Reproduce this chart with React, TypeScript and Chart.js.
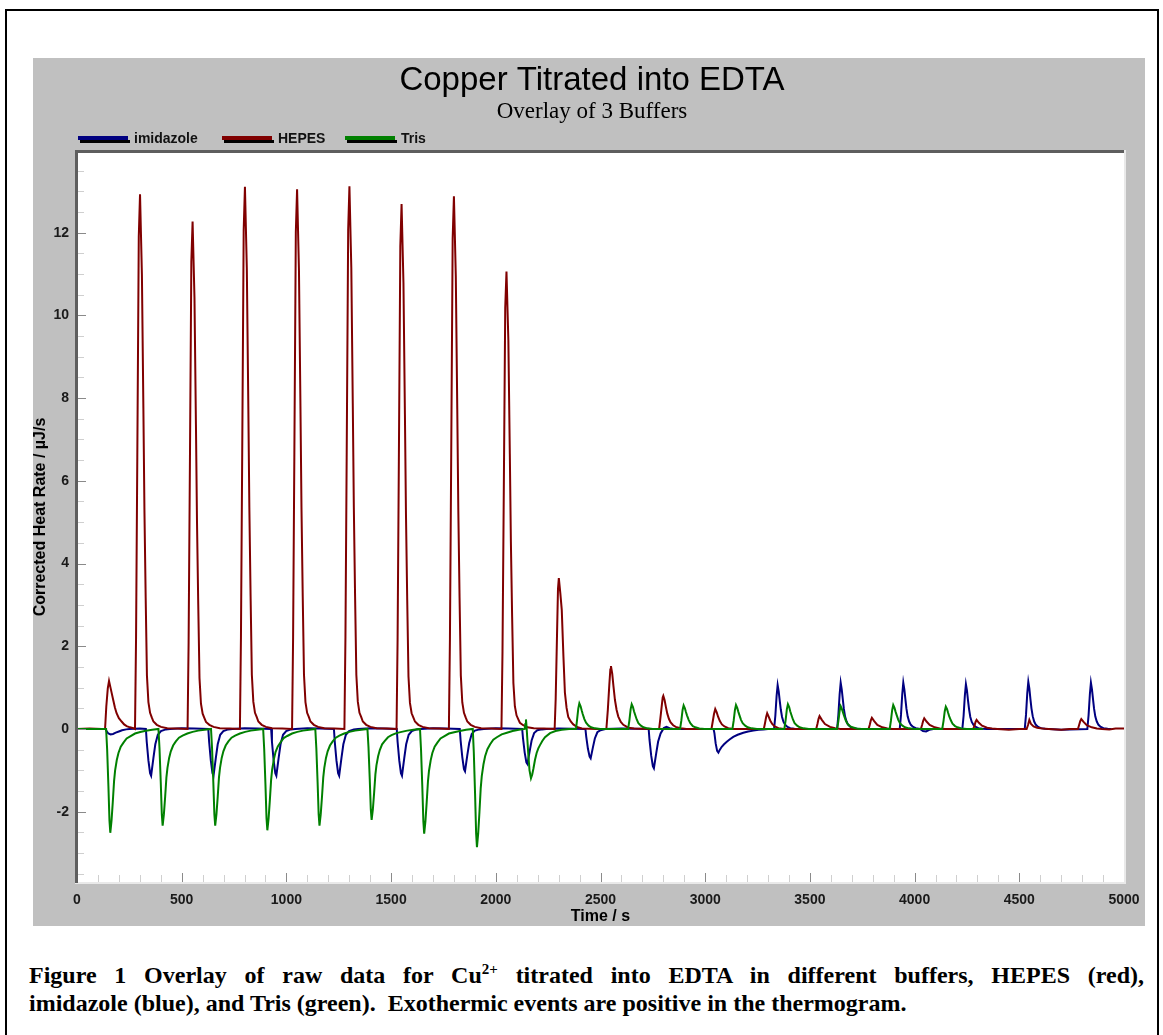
import { useEffect, useRef } from 'react';
import { Chart, registerables } from 'chart.js';

Chart.register(...registerables);

const chartTitle = 'Copper Titrated into EDTA';
const chartSubtitle = 'Overlay of 3 Buffers';
const seriesNames = ['imidazole', 'HEPES', 'Tris'];
const seriesColors = ['#000080', '#800000', '#008000'];

const xTickLabels = [0, 500, 1000, 1500, 2000, 2500, 3000, 3500, 4000, 4500, 5000];
const yTickLabels = [-2, 0, 2, 4, 6, 8, 10, 12];

// Time (s), corrected heat rate (µJ/s)
const imidazoleData: [number, number][] = [
  [0, 0], [136, 0], [142, -0.06], [150, -0.11], [160, -0.13], [172, -0.12], [185, -0.09], [200, -0.06], [215, -0.03], [235, -0.01], [250, 0], [300, 0.01], [329, 0],
  [333, -0.31], [341, -0.76], [349, -1.07], [354, -1.13], [365, -0.7], [374, -0.37], [386, -0.14], [401, -0.05], [424, -0.01], [444, 0], [500, 0.02], [560, 0.01], [627, 0],
  [631, -0.31], [639, -0.76], [647, -1.07], [652, -1.13], [663, -0.7], [672, -0.37], [684, -0.14], [699, -0.05], [722, -0.01], [742, 0], [800, 0.02], [860, 0.01], [927, 0],
  [931, -0.31], [939, -0.76], [947, -1.07], [952, -1.13], [963, -0.7], [972, -0.37], [984, -0.14], [999, -0.05], [1022, -0.01], [1042, 0], [1100, 0.02], [1160, 0.01], [1227, 0],
  [1231, -0.31], [1239, -0.76], [1247, -1.07], [1252, -1.13], [1263, -0.7], [1272, -0.37], [1284, -0.14], [1299, -0.05], [1322, -0.01], [1342, 0], [1400, 0.02], [1460, 0.01], [1527, 0],
  [1531, -0.31], [1539, -0.76], [1547, -1.07], [1552, -1.13], [1563, -0.7], [1572, -0.37], [1584, -0.14], [1599, -0.05], [1622, -0.01], [1642, 0], [1700, 0.02], [1760, 0.01], [1828, 0],
  [1832, -0.28], [1840, -0.68], [1848, -0.97], [1853, -1.02], [1864, -0.63], [1873, -0.34], [1885, -0.12], [1900, -0.04], [1923, -0.01], [1943, 0], [2000, 0.02], [2060, 0.01], [2126, 0],
  [2130, -0.23], [2138, -0.57], [2146, -0.81], [2151, -0.85], [2162, -0.53], [2171, -0.28], [2183, -0.1], [2198, -0.03], [2221, -0.01], [2241, 0], [2300, 0.01], [2428, 0],
  [2432, -0.19], [2440, -0.48], [2448, -0.67], [2453, -0.71], [2464, -0.44], [2473, -0.23], [2485, -0.08], [2500, -0.03], [2523, 0], [2600, 0.01], [2730, 0],
  [2734, -0.26], [2742, -0.64], [2750, -0.9], [2755, -0.95], [2766, -0.59], [2775, -0.31], [2787, -0.11], [2802, 0.02], [2815, 0.05], [2830, 0.02], [2850, 0], [3040, 0],
  [3044, -0.1], [3050, -0.35], [3057, -0.53], [3063, -0.57], [3070, -0.5], [3079, -0.43], [3090, -0.37], [3103, -0.31], [3118, -0.25], [3134, -0.19], [3155, -0.14], [3182, -0.09], [3205, -0.06], [3230, -0.04], [3255, -0.02], [3278, -0.01], [3300, 0], [3329, 0],
  [3335, 0.32], [3341, 0.8], [3346, 1.06], [3351, 0.91], [3356, 0.68], [3361, 0.47], [3367, 0.29], [3374, 0.17], [3382, 0.1], [3393, 0.05], [3406, 0.02], [3426, 0.005], [3446, 0], [3630, 0],
  [3636, 0.34], [3642, 0.84], [3647, 1.12], [3652, 0.96], [3657, 0.72], [3662, 0.49], [3668, 0.3], [3675, 0.18], [3683, 0.1], [3694, 0.05], [3707, 0.02], [3727, 0.006], [3747, 0], [3929, 0],
  [3935, 0.34], [3941, 0.84], [3946, 1.12], [3951, 0.96], [3956, 0.72], [3961, 0.49], [3967, 0.3], [3974, 0.18], [3982, 0.1], [3993, 0.05], [4006, 0.02], [4026, 0], [4040, -0.05], [4055, -0.06], [4070, -0.02], [4090, 0], [4228, 0],
  [4234, 0.32], [4240, 0.81], [4245, 1.08], [4250, 0.93], [4255, 0.69], [4260, 0.48], [4266, 0.29], [4273, 0.17], [4281, 0.1], [4292, 0.05], [4305, 0.02], [4325, 0.005], [4345, 0], [4526, 0],
  [4532, 0.34], [4538, 0.86], [4543, 1.14], [4548, 0.98], [4553, 0.73], [4558, 0.5], [4564, 0.31], [4571, 0.18], [4579, 0.1], [4590, 0.05], [4603, 0.02], [4623, 0.006], [4643, 0], [4700, -0.02], [4825, 0],
  [4831, 0.34], [4837, 0.84], [4842, 1.12], [4847, 0.96], [4852, 0.72], [4857, 0.49], [4863, 0.3], [4870, 0.18], [4878, 0.1], [4889, 0.05], [4902, 0.02], [4922, 0.005], [4940, 0],
];

const hepesData: [number, number][] = [
  [0, 0], [60, 0.01], [120, 0], [134, 0], [140, 0.55], [147, 0.98], [153, 1.16], [160, 1.0], [166, 0.86], [173, 0.7], [181, 0.52], [189, 0.38], [200, 0.26], [213, 0.18], [225, 0.11], [237, 0.07], [253, 0.04], [269, 0.02], [277, 0],
  [282, 2.2], [288, 6.59], [295, 11.9], [301, 12.93], [310, 10.99], [317, 7.76], [322, 5.3], [328, 3.17], [334, 1.29], [341, 0.65], [349, 0.39], [357, 0.28], [365, 0.18], [381, 0.1], [401, 0.05], [431, 0.02], [480, 0.01], [528, 0],
  [533, 2.09], [539, 6.26], [546, 11.29], [552, 12.27], [561, 10.43], [568, 7.36], [573, 5.03], [579, 3.01], [585, 1.23], [592, 0.61], [600, 0.37], [608, 0.27], [616, 0.17], [632, 0.1], [652, 0.05], [682, 0.02], [730, 0.01], [778, 0],
  [783, 2.23], [789, 6.69], [796, 12.06], [802, 13.11], [811, 11.14], [818, 7.87], [823, 5.38], [829, 3.21], [835, 1.31], [842, 0.66], [850, 0.39], [858, 0.29], [866, 0.18], [882, 0.1], [902, 0.05], [932, 0.02], [980, 0.01], [1027, 0],
  [1032, 2.22], [1038, 6.66], [1045, 12.01], [1051, 13.05], [1060, 11.09], [1067, 7.83], [1072, 5.35], [1078, 3.2], [1084, 1.31], [1091, 0.65], [1099, 0.39], [1107, 0.29], [1115, 0.18], [1131, 0.1], [1151, 0.05], [1181, 0.02], [1230, 0.01], [1277, 0],
  [1282, 2.23], [1288, 6.69], [1295, 12.07], [1301, 13.12], [1310, 11.15], [1317, 7.87], [1322, 5.38], [1328, 3.21], [1334, 1.31], [1341, 0.66], [1349, 0.39], [1357, 0.29], [1365, 0.18], [1381, 0.1], [1401, 0.05], [1431, 0.02], [1480, 0.01], [1526, 0],
  [1531, 2.16], [1537, 6.47], [1544, 11.67], [1550, 12.69], [1559, 10.79], [1566, 7.61], [1571, 5.2], [1577, 3.11], [1583, 1.27], [1590, 0.63], [1598, 0.38], [1606, 0.28], [1614, 0.18], [1630, 0.1], [1650, 0.05], [1680, 0.02], [1730, 0.01], [1776, 0],
  [1781, 2.19], [1787, 6.57], [1794, 11.85], [1800, 12.88], [1809, 10.95], [1816, 7.73], [1821, 5.28], [1827, 3.16], [1833, 1.29], [1840, 0.64], [1848, 0.39], [1856, 0.28], [1864, 0.18], [1880, 0.1], [1900, 0.05], [1930, 0.02], [1980, 0.01], [2027, 0],
  [2032, 1.88], [2038, 5.64], [2045, 10.18], [2051, 11.06], [2060, 9.4], [2067, 6.64], [2072, 4.53], [2078, 2.71], [2084, 1.11], [2091, 0.55], [2099, 0.33], [2107, 0.24], [2115, 0.15], [2131, 0.09], [2151, 0.04], [2181, 0.02], [2230, 0.01], [2281, 0],
  [2286, 0.73], [2292, 2.19], [2297, 3.39], [2301, 3.65], [2308, 3.29], [2315, 2.88], [2323, 1.75], [2330, 0.88], [2338, 0.51], [2346, 0.29], [2358, 0.18], [2370, 0.11], [2391, 0.04], [2411, 0.01], [2480, 0], [2528, 0],
  [2535, 0.46], [2542, 1.06], [2547, 1.44], [2550, 1.52], [2556, 1.34], [2562, 1.03], [2569, 0.7], [2577, 0.46], [2585, 0.3], [2597, 0.17], [2609, 0.1], [2633, 0.03], [2660, 0.01], [2740, 0], [2780, 0],
  [2786, 0.26], [2793, 0.58], [2797, 0.76], [2800, 0.8], [2806, 0.7], [2812, 0.54], [2819, 0.37], [2827, 0.24], [2835, 0.16], [2847, 0.09], [2859, 0.05], [2883, 0.02], [2910, 0], [3030, 0],
  [3036, 0.18], [3042, 0.36], [3048, 0.48], [3055, 0.4], [3062, 0.29], [3070, 0.19], [3080, 0.11], [3092, 0.06], [3110, 0.02], [3135, 0], [3280, 0],
  [3286, 0.15], [3291, 0.29], [3296, 0.38], [3303, 0.3], [3311, 0.2], [3320, 0.12], [3332, 0.06], [3350, 0.02], [3375, 0], [3530, 0],
  [3536, 0.12], [3541, 0.24], [3546, 0.31], [3557, 0.22], [3572, 0.12], [3596, 0.05], [3620, 0.02], [3645, 0], [3780, 0],
  [3786, 0.1], [3791, 0.21], [3796, 0.27], [3807, 0.19], [3822, 0.1], [3846, 0.04], [3870, 0.01], [3895, 0], [4030, 0],
  [4036, 0.1], [4041, 0.2], [4046, 0.26], [4057, 0.18], [4072, 0.1], [4096, 0.04], [4120, 0.01], [4145, 0], [4280, 0],
  [4286, 0.08], [4291, 0.17], [4296, 0.22], [4307, 0.15], [4322, 0.08], [4346, 0.03], [4370, 0.01], [4395, 0], [4450, -0.02], [4500, 0], [4535, 0],
  [4542, 0.1], [4548, 0.22], [4556, 0.12], [4568, 0.06], [4585, 0.03], [4610, 0.01], [4640, 0], [4700, -0.02], [4740, 0], [4780, 0],
  [4786, 0.1], [4791, 0.19], [4796, 0.24], [4807, 0.17], [4822, 0.09], [4846, 0.04], [4870, 0.01], [4895, 0], [4930, -0.01], [4960, 0.01], [5000, 0.01],
];

const trisData: [number, number][] = [
  [0, 0], [139, 0], [144, -0.5], [150, -1.38], [155, -2.21], [159, -2.51], [165, -2.21], [171, -1.76], [177, -1.26], [182, -1.0], [190, -0.75], [198, -0.58], [209, -0.43], [222, -0.33], [237, -0.23], [254, -0.18], [277, -0.11], [302, -0.075], [329, -0.045], [359, -0.02], [389, 0],
  [394, -0.47], [400, -1.29], [405, -2.06], [409, -2.34], [415, -2.06], [421, -1.64], [427, -1.17], [432, -0.94], [440, -0.7], [448, -0.54], [459, -0.4], [472, -0.3], [487, -0.21], [504, -0.16], [527, -0.11], [552, -0.07], [579, -0.04], [609, -0.02], [640, 0],
  [645, -0.47], [651, -1.29], [656, -2.06], [660, -2.34], [666, -2.06], [672, -1.64], [678, -1.17], [683, -0.94], [691, -0.7], [699, -0.54], [710, -0.4], [723, -0.3], [738, -0.21], [755, -0.16], [778, -0.11], [803, -0.07], [830, -0.04], [860, -0.02], [889, 0],
  [894, -0.49], [900, -1.35], [905, -2.16], [909, -2.45], [915, -2.16], [921, -1.72], [927, -1.23], [932, -0.98], [940, -0.74], [948, -0.56], [959, -0.42], [972, -0.32], [987, -0.22], [1004, -0.17], [1027, -0.11], [1052, -0.07], [1079, -0.04], [1109, -0.02], [1138, 0],
  [1143, -0.47], [1149, -1.29], [1154, -2.06], [1158, -2.34], [1164, -2.06], [1170, -1.64], [1176, -1.17], [1181, -0.94], [1189, -0.7], [1197, -0.54], [1208, -0.4], [1221, -0.3], [1236, -0.21], [1253, -0.16], [1276, -0.11], [1301, -0.07], [1328, -0.04], [1358, -0.02], [1387, 0],
  [1392, -0.44], [1398, -1.21], [1403, -1.94], [1407, -2.2], [1413, -1.94], [1419, -1.54], [1425, -1.1], [1430, -0.88], [1438, -0.66], [1446, -0.51], [1457, -0.37], [1470, -0.29], [1485, -0.2], [1502, -0.15], [1525, -0.1], [1550, -0.07], [1577, -0.04], [1607, -0.02], [1638, 0],
  [1643, -0.51], [1649, -1.39], [1654, -2.23], [1658, -2.53], [1664, -2.23], [1670, -1.77], [1676, -1.27], [1681, -1.01], [1689, -0.76], [1697, -0.58], [1708, -0.43], [1721, -0.33], [1736, -0.23], [1753, -0.18], [1776, -0.11], [1801, -0.08], [1828, -0.05], [1858, -0.02], [1890, 0],
  [1895, -0.57], [1901, -1.57], [1906, -2.52], [1910, -2.86], [1916, -2.52], [1922, -2.0], [1928, -1.43], [1933, -1.14], [1941, -0.86], [1949, -0.66], [1960, -0.49], [1973, -0.37], [1988, -0.26], [2005, -0.2], [2028, -0.13], [2053, -0.09], [2080, -0.05], [2110, -0.02], [2138, 0],
  [2141, 0.12], [2144, 0.23], [2147, 0.05], [2150, -0.2], [2155, -0.6], [2161, -1.0], [2168, -1.19], [2174, -1.1], [2180, -0.95], [2187, -0.75], [2195, -0.58], [2203, -0.47], [2211, -0.39], [2222, -0.29], [2235, -0.2], [2259, -0.1], [2285, -0.05], [2315, -0.02], [2350, 0], [2383, 0],
  [2388, 0.22], [2394, 0.5], [2399, 0.62], [2405, 0.55], [2410, 0.45], [2415, 0.36], [2423, 0.24], [2431, 0.15], [2443, 0.08], [2455, 0.04], [2474, 0.015], [2499, 0], [2632, 0],
  [2638, 0.21], [2644, 0.48], [2649, 0.6], [2655, 0.53], [2660, 0.43], [2665, 0.35], [2673, 0.23], [2681, 0.14], [2693, 0.08], [2705, 0.04], [2724, 0.015], [2749, 0], [2880, 0],
  [2886, 0.2], [2892, 0.46], [2897, 0.57], [2903, 0.5], [2908, 0.41], [2913, 0.33], [2921, 0.22], [2929, 0.14], [2941, 0.07], [2953, 0.04], [2972, 0.014], [2997, 0], [3130, 0],
  [3136, 0.2], [3142, 0.46], [3147, 0.58], [3153, 0.51], [3158, 0.42], [3163, 0.34], [3171, 0.22], [3179, 0.14], [3191, 0.08], [3203, 0.04], [3222, 0.015], [3247, 0], [3378, 0],
  [3384, 0.21], [3390, 0.48], [3395, 0.6], [3401, 0.53], [3406, 0.43], [3411, 0.35], [3419, 0.23], [3427, 0.14], [3439, 0.08], [3451, 0.04], [3470, 0.015], [3495, 0], [3630, 0],
  [3636, 0.19], [3642, 0.44], [3647, 0.55], [3653, 0.48], [3658, 0.4], [3663, 0.32], [3671, 0.21], [3679, 0.13], [3691, 0.07], [3703, 0.04], [3722, 0.014], [3747, 0], [3881, 0],
  [3887, 0.2], [3893, 0.46], [3898, 0.58], [3904, 0.51], [3909, 0.42], [3914, 0.34], [3922, 0.22], [3930, 0.14], [3942, 0.08], [3954, 0.04], [3973, 0.015], [3998, 0], [4132, 0],
  [4138, 0.19], [4144, 0.43], [4149, 0.54], [4155, 0.48], [4160, 0.39], [4165, 0.31], [4173, 0.21], [4181, 0.13], [4193, 0.07], [4205, 0.04], [4224, 0.014], [4249, 0], [4327, 0],
];

const seriesData = [imidazoleData, hepesData, trisData];
const drawOrder = [3, 2, 1]; // Tris on top, imidazole underneath

const SANS = 'Arial, "Liberation Sans", sans-serif';
const SERIF = '"Times New Roman", "Liberation Serif", serif';

// layout constants (canvas px)
const TITLE_X = 559;
const TITLE_Y = 23;
const SUBTITLE_Y = 54;
const LEGEND_X = [45, 189, 312];
const LEGEND_Y = 82;

const framePlugin = {
  id: 'itcFrame',
  beforeDraw(chart: any) {
    const { ctx, chartArea } = chart;
    const { left, top, right, bottom } = chartArea;
    ctx.save();
    ctx.fillStyle = '#ffffff';
    ctx.fillRect(left, top, right - left, bottom - top);
    ctx.restore();
  },
  afterDatasetsDraw(chart: any) {
    const { ctx, chartArea, scales } = chart;
    const { left, top, right, bottom } = chartArea;
    ctx.save();
    ctx.lineWidth = 1;
    scales.y.ticks.forEach((t: any) => {
      const py = Math.round(scales.y.getPixelForValue(t.value)) + 0.5;
      const major = yTickLabels.includes(t.value);
      ctx.strokeStyle = major ? '#8a8a8a' : '#cfcfcf';
      ctx.beginPath();
      ctx.moveTo(left, py);
      ctx.lineTo(left + (major ? 9 : 7), py);
      ctx.stroke();
    });
    scales.x.ticks.forEach((t: any) => {
      const px = Math.round(scales.x.getPixelForValue(t.value)) + 0.5;
      const major = xTickLabels.includes(t.value);
      ctx.strokeStyle = major ? '#8a8a8a' : '#cfcfcf';
      ctx.beginPath();
      ctx.moveTo(px, bottom);
      ctx.lineTo(px, bottom - (major ? 9 : 7));
      ctx.stroke();
    });
    ctx.fillStyle = '#e9e9e9';
    ctx.fillRect(left - 2, bottom, right - left + 4, 2);
    ctx.fillRect(right, top - 2, 2, bottom - top + 4);
    ctx.fillStyle = '#5e5e5e';
    ctx.fillRect(left - 2, top - 2, right - left + 2, 3);
    ctx.fillRect(left - 2, top - 2, 3, bottom - top + 3);
    ctx.restore();
  },
  afterDraw(chart: any) {
    const { ctx } = chart;
    ctx.save();
    ctx.textAlign = 'center';
    ctx.textBaseline = 'middle';
    ctx.fillStyle = '#000';
    ctx.font = `33px ${SANS}`;
    ctx.fillText(chartTitle, TITLE_X, TITLE_Y);
    ctx.font = `23px ${SERIF}`;
    ctx.fillText(chartSubtitle, TITLE_X, SUBTITLE_Y);

    ctx.font = `bold 14px ${SANS}`;
    ctx.textAlign = 'left';
    chart.data.datasets.forEach((ds: any, i: number) => {
      const x = LEGEND_X[i];
      const y = LEGEND_Y;
      ctx.fillStyle = '#000000';
      ctx.fillRect(x + 2, y, 50, 3);
      ctx.fillStyle = ds.borderColor;
      ctx.fillRect(x, y - 4, 50, 4);
      ctx.fillStyle = '#111111';
      ctx.fillText(ds.label, x + 56, y - 1);
    });
    ctx.restore();
  },
};

function ThermogramChart() {
  const canvasRef = useRef<HTMLCanvasElement | null>(null);

  useEffect(() => {
    const canvas = canvasRef.current;
    if (!canvas) return;
    const chart = new Chart(canvas, {
      type: 'line',
      data: {
        datasets: seriesNames.map((name, i) => ({
          label: name,
          data: seriesData[i].map(([x, y]) => ({ x, y })),
          borderColor: seriesColors[i],
          backgroundColor: seriesColors[i],
          borderWidth: 2,
          pointRadius: 0,
          tension: 0,
          fill: false,
          order: drawOrder[i],
        })),
      },
      options: {
        responsive: false,
        animation: false,
        devicePixelRatio: 1,
        layout: { padding: { left: 0, right: 21, top: 94, bottom: 0 } },
        plugins: {
          legend: { display: false },
          tooltip: { enabled: false },
          title: { display: false },
          subtitle: { display: false },
        },
        scales: {
          x: {
            type: 'linear',
            min: 0,
            max: 5000,
            afterFit: (s: any) => {
              s.height = 44;
              s.paddingLeft = 0;
              s.paddingRight = 0;
            },
            grid: { display: false, drawTicks: false },
            border: { display: false },
            ticks: {
              stepSize: 100,
              autoSkip: false,
              maxRotation: 0,
              includeBounds: false,
              padding: 10,
              color: '#1a1a1a',
              font: { family: SANS, size: 14, weight: 'bold' },
              callback: (v: any) => (xTickLabels.includes(Number(v)) ? String(v) : ''),
            },
            title: {
              display: true,
              text: 'Time / s',
              color: '#000',
              font: { family: SANS, size: 16, weight: 'bold', lineHeight: 1 },
              padding: { top: 0, bottom: 1 },
            },
          },
          y: {
            type: 'linear',
            min: -3.7,
            max: 13.95,
            afterFit: (s: any) => {
              s.width = 44;
              s.paddingTop = 0;
              s.paddingBottom = 0;
            },
            grid: { display: false, drawTicks: false },
            border: { display: false },
            ticks: {
              stepSize: 0.5,
              autoSkip: false,
              includeBounds: false,
              padding: 8,
              color: '#1a1a1a',
              font: { family: SANS, size: 14, weight: 'bold' },
              callback: (v: any) => (yTickLabels.includes(Number(v)) ? String(v) : ''),
            },
            title: {
              display: true,
              text: 'Corrected Heat Rate / µJ/s',
              color: '#000',
              font: { family: SANS, size: 16, weight: 'bold', lineHeight: 1 },
              padding: { top: 0, bottom: 0 },
            },
          },
        },
      },
      plugins: [framePlugin],
    });
    return () => chart.destroy();
  }, []);

  return <canvas ref={canvasRef} width={1112} height={868} style={{ display: 'block' }} />;
}

export default function App() {
  const captionFont = `bold 24px ${SERIF}`;
  return (
    <div style={{ position: 'absolute', left: 0, top: 0, width: 1163, height: 1035, background: '#fff', overflow: 'hidden' }}>
      <div style={{ position: 'absolute', left: 5, top: 9, width: 1150, height: 1060, border: '2px solid #000' }} />
      <div style={{ position: 'absolute', left: 33, top: 58, width: 1112, height: 868, background: '#c0c0c0' }}>
        <ThermogramChart />
      </div>
      <div style={{ position: 'absolute', left: 29, top: 961, width: 1115, font: captionFont, lineHeight: '28px', color: '#000' }}>
        <div style={{ textAlign: 'justify', textAlignLast: 'justify' as any, whiteSpace: 'nowrap' as any }}>
          Figure 1 Overlay of raw data for Cu<sup style={{ fontSize: '15px', lineHeight: 0 }}>2+</sup> titrated into EDTA in different buffers, HEPES (red),
        </div>
        <div style={{ textAlign: 'left' }}>
          imidazole (blue), and Tris (green).&nbsp; Exothermic events are positive in the thermogram.
        </div>
      </div>
    </div>
  );
}
